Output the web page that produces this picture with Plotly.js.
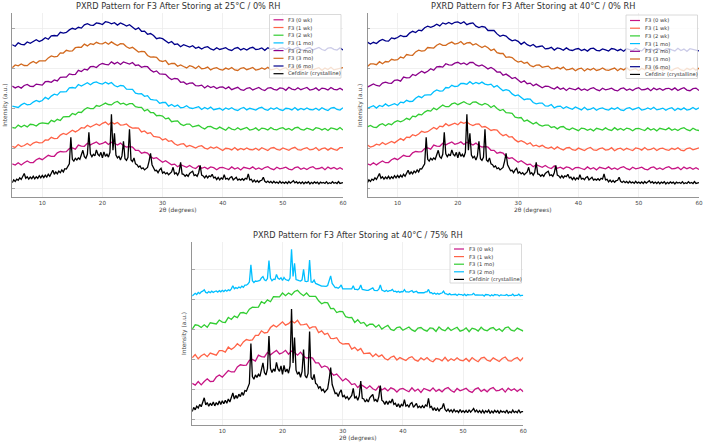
<!DOCTYPE html>
<html><head><meta charset="utf-8">
<script src="https://cdn.plot.ly/plotly-3.0.1.min.js"></script>
<style>html,body{margin:0;padding:0;background:#fff}#chart{width:708px;height:446px}</style>
</head><body><div id="chart"></div>
<script>
// 2θ grid for the amorphous halos (0.5° step)
const twoTheta = [
5,5.5,6,6.5,7,7.5,8,8.5,9,9.5,
10,10.5,11,11.5,12,12.5,13,13.5,14,14.5,
15,15.5,16,16.5,17,17.5,18,18.5,19,19.5,
20,20.5,21,21.5,22,22.5,23,23.5,24,24.5,
25,25.5,26,26.5,27,27.5,28,28.5,29,29.5,
30,30.5,31,31.5,32,32.5,33,33.5,34,34.5,
35,35.5,36,36.5,37,37.5,38,38.5,39,39.5,
40,40.5,41,41.5,42,42.5,43,43.5,44,44.5,
45,45.5,46,46.5,47,47.5,48,48.5,49,49.5,
50,50.5,51,51.5,52,52.5,53,53.5,54,54.5,
55,55.5,56,56.5,57,57.5,58,58.5,59,59.5,
60];
// 2θ grid for crystalline patterns (0.25° step)
const twoThetaFine = [
5,5.25,5.5,5.75, 6,6.25,6.5,6.75, 7,7.25,7.5,7.75, 8,8.25,8.5,8.75, 9,9.25,9.5,9.75,
10,10.25,10.5,10.75, 11,11.25,11.5,11.75, 12,12.25,12.5,12.75, 13,13.25,13.5,13.75, 14,14.25,14.5,14.75,
15,15.25,15.5,15.75, 16,16.25,16.5,16.75, 17,17.25,17.5,17.75, 18,18.25,18.5,18.75, 19,19.25,19.5,19.75,
20,20.25,20.5,20.75, 21,21.25,21.5,21.75, 22,22.25,22.5,22.75, 23,23.25,23.5,23.75, 24,24.25,24.5,24.75,
25,25.25,25.5,25.75, 26,26.25,26.5,26.75, 27,27.25,27.5,27.75, 28,28.25,28.5,28.75, 29,29.25,29.5,29.75,
30,30.25,30.5,30.75, 31,31.25,31.5,31.75, 32,32.25,32.5,32.75, 33,33.25,33.5,33.75, 34,34.25,34.5,34.75,
35,35.25,35.5,35.75, 36,36.25,36.5,36.75, 37,37.25,37.5,37.75, 38,38.25,38.5,38.75, 39,39.25,39.5,39.75,
40,40.25,40.5,40.75, 41,41.25,41.5,41.75, 42,42.25,42.5,42.75, 43,43.25,43.5,43.75, 44,44.25,44.5,44.75,
45,45.25,45.5,45.75, 46,46.25,46.5,46.75, 47,47.25,47.5,47.75, 48,48.25,48.5,48.75, 49,49.25,49.5,49.75,
50,50.25,50.5,50.75, 51,51.25,51.5,51.75, 52,52.25,52.5,52.75, 53,53.25,53.5,53.75, 54,54.25,54.5,54.75,
55,55.25,55.5,55.75, 56,56.25,56.5,56.75, 57,57.25,57.5,57.75, 58,58.25,58.5,58.75, 59,59.25,59.5,59.75,
60];

// Cefdinir (crystalline) reference pattern
const cefdinir = [
0.28,0.42,0.34,0.46, 0.40,0.52,0.44,0.60, 0.74,0.50,0.58,0.46, 0.56,0.48,0.60,0.47, 0.58,0.50,0.63,0.52,
0.64,0.54,0.66,0.56, 0.70,0.60,0.74,0.90, 0.70,0.82,0.72,0.86, 0.78,0.92,0.82,0.98, 0.96,1.12,1.22,2.55,
1.45,1.36,1.50,1.42, 1.52,1.45,1.72,1.90, 1.58,1.50,1.70,2.80, 1.72,1.58,1.70,1.62, 1.92,1.70,1.62,1.80,
1.52,1.82,1.60,1.70, 1.56,1.80,3.70,1.90, 2.75,1.66,1.52,1.60, 1.42,1.62,2.35,1.48, 1.40,1.55,2.95,1.42,
1.34,1.52,1.22,1.18, 1.06,1.12,0.98,1.02, 0.92,1.00,1.04,1.35, 1.75,1.18,1.04,0.88, 0.90,0.78,0.92,1.00,
0.76,0.82,0.72,0.78, 0.68,0.76,0.82,1.05, 0.72,0.78,0.66,0.80, 1.30,0.72,0.70,0.60, 0.68,0.60,0.74,0.80,
0.85,0.64,0.68,0.60, 0.78,1.15,0.66,0.62, 0.52,0.63,0.52,0.62, 0.58,0.70,0.52,0.56, 0.44,0.54,0.42,0.52,
0.46,0.68,0.46,0.50, 0.43,0.54,0.58,0.42, 0.48,0.55,0.41,0.46, 0.41,0.48,0.40,0.50, 0.46,0.72,0.42,0.45,
0.32,0.41,0.31,0.39, 0.30,0.38,0.40,0.55, 0.35,0.29,0.36,0.28, 0.34,0.26,0.35,0.27, 0.31,0.25,0.35,0.26,
0.31,0.25,0.32,0.24, 0.34,0.26,0.32,0.38, 0.27,0.33,0.25,0.31, 0.24,0.32,0.23,0.31, 0.26,0.33,0.22,0.30,
0.24,0.32,0.26,0.31, 0.22,0.31,0.26,0.29, 0.24,0.33,0.23,0.28, 0.24,0.33,0.25,0.29, 0.24,0.34,0.24,0.28,
0.28];

// F3 (2 mo) at 40°C / 75% RH — recrystallised
const f3_75_2mo = [
0.13,0.19,0.22,0.18, 0.25,0.21,0.27,0.29, 0.34,0.25,0.23,0.28, 0.24,0.29,0.25,0.28, 0.30,0.26,0.31,0.27,
0.32,0.28,0.33,0.29, 0.34,0.31,0.37,0.47, 0.37,0.41,0.38,0.43, 0.40,0.46,0.42,0.49, 0.49,0.53,0.60,1.17,
0.64,0.58,0.63,0.62, 0.64,0.65,0.73,0.78, 0.67,0.64,0.71,1.31, 0.73,0.64,0.69,0.68, 0.85,0.72,0.69,0.74,
0.65,0.75,0.68,0.65, 0.64,0.73,1.69,0.78, 1.22,0.68,0.65,0.64, 0.63,0.67,1.02,0.62, 0.61,0.63,1.33,0.60,
0.59,0.66,0.55,0.53, 0.49,0.49,0.46,0.46, 0.45,0.45,0.48,0.62, 0.80,0.55,0.47,0.41, 0.42,0.39,0.43,0.50,
0.37,0.37,0.36,0.36, 0.35,0.35,0.37,0.47, 0.35,0.35,0.34,0.38, 0.50,0.35,0.34,0.31, 0.32,0.32,0.35,0.38,
0.40,0.32,0.32,0.31, 0.36,0.50,0.33,0.31, 0.28,0.32,0.28,0.31, 0.31,0.35,0.28,0.29, 0.26,0.29,0.25,0.28,
0.27,0.34,0.27,0.27, 0.26,0.29,0.31,0.25, 0.26,0.29,0.24,0.25, 0.24,0.24,0.24,0.27, 0.27,0.35,0.24,0.24,
0.20,0.23,0.19,0.22, 0.19,0.22,0.23,0.29, 0.21,0.20,0.17,0.21, 0.17,0.18,0.18,0.19, 0.15,0.19,0.18,0.18,
0.15,0.19,0.14,0.18, 0.17,0.17,0.18,0.22, 0.16,0.17,0.16,0.16, 0.16,0.17,0.13,0.18, 0.17,0.17,0.13,0.17,
0.14,0.18,0.17,0.17, 0.13,0.17,0.16,0.16, 0.15,0.18,0.14,0.15, 0.15,0.19,0.14,0.15, 0.15,0.19,0.14,0.15,
0.15];

// F3 (0 wk) — same sample in all three panels
const f3_0wk = [
0.22,0.16,0.28,0.17,0.28,0.37,0.28,0.29,0.43,0.50,
0.43,0.54,0.65,0.60,0.60,0.77,0.84,0.82,0.83,0.99,
1.02,0.96,1.16,1.11,1.10,1.25,1.17,1.25,1.32,1.20,
1.24,1.32,1.19,1.30,1.25,1.16,1.26,1.13,1.06,1.09,
1.06,0.90,0.90,0.75,0.80,0.76,0.59,0.49,0.53,0.42,
0.30,0.38,0.30,0.18,0.21,0.08,0.18,0.12,0.05,0.14,
0.04,-0.01,0.12,0.00,0.06,-0.03,0.07,0.03,-0.07,0.03,
0.05,-0.01,-0.06,0.07,-0.04,0.03,-0.08,0.05,0.01,-0.03,
0.07,-0.05,0.02,-0.06,0.04,0.08,-0.02,-0.07,0.05,-0.03,
0.01,0.06,-0.04,-0.08,0.03,0.07,-0.05,0.02,-0.06,0.04,
0.08,-0.03,-0.01,0.05,-0.07,0.06,-0.02,0.04,-0.05,0.03,
-0.06];

// 25°C / 0% RH
const f3_25_1wk = [
0.10,0.04,0.19,0.09,0.14,0.24,0.14,0.26,0.32,0.27,
0.28,0.42,0.41,0.55,0.48,0.50,0.66,0.74,0.69,0.79,
0.90,0.82,0.90,1.03,1.01,1.15,1.06,1.14,1.22,1.14,
1.25,1.31,1.18,1.30,1.22,1.29,1.16,1.17,1.22,1.08,
1.01,1.02,1.01,0.82,0.87,0.74,0.78,0.59,0.57,0.55,
0.42,0.48,0.35,0.38,0.23,0.15,0.21,0.23,0.08,0.14,
0.08,0.01,0.10,0.13,0.01,-0.04,0.07,0.00,0.07,-0.03,
-0.11,0.00,-0.02,-0.08,0.04,-0.09,-0.01,-0.07,0.02,-0.06,
-0.08,0.00,-0.10,0.03,-0.05,-0.11,0.01,0.04,-0.06,-0.09,
0.02,-0.04,-0.10,0.00,0.05,-0.07,-0.09,-0.01,0.03,-0.08,
-0.06,0.04,-0.11,-0.02,0.02,-0.09,0.01,-0.05,-0.10,0.03,
0.03];
const f3_25_2wk = [
0.04,0.01,0.16,0.06,0.15,0.07,0.20,0.18,0.11,0.23,
0.27,0.24,0.23,0.40,0.33,0.45,0.39,0.57,0.58,0.59,
0.74,0.68,0.81,0.79,0.94,1.03,0.98,0.98,1.14,1.10,
1.18,1.26,1.19,1.17,1.29,1.34,1.21,1.26,1.16,1.23,
1.23,1.08,1.05,1.05,0.87,0.94,0.79,0.78,0.63,0.65,
0.61,0.47,0.51,0.33,0.36,0.37,0.21,0.14,0.21,0.21,
0.07,0.11,0.15,0.04,-0.03,0.08,0.09,0.01,-0.04,0.06,
0.00,-0.10,0.05,-0.04,-0.08,0.03,-0.07,-0.01,0.04,-0.09,
-0.06,0.02,-0.11,0.01,-0.02,-0.09,0.04,-0.05,-0.08,0.00,
0.03,-0.07,-0.01,-0.10,0.02,0.05,-0.06,-0.09,0.01,-0.04,
-0.10,0.03,0.00,-0.08,-0.01,-0.11,0.02,-0.02,-0.07,0.04,
-0.09];
const f3_25_1mo = [
0.11,0.07,0.04,0.17,0.25,0.17,0.19,0.31,0.39,0.33,
0.39,0.55,0.46,0.61,0.71,0.66,0.82,0.82,0.83,1.02,
1.04,1.01,1.19,1.11,1.18,1.28,1.18,1.28,1.32,1.24,
1.21,1.30,1.22,1.29,1.14,1.07,1.14,1.12,0.96,0.95,
0.95,0.76,0.72,0.73,0.60,0.63,0.44,0.42,0.41,0.25,
0.29,0.29,0.11,0.19,0.09,0.16,0.03,0.05,0.13,0.02,
-0.01,0.04,0.08,-0.06,0.04,-0.04,0.06,-0.07,-0.04,0.00,
-0.10,0.02,-0.05,0.03,-0.07,-0.11,-0.01,0.04,-0.08,0.00,
-0.04,-0.09,0.01,0.05,-0.06,-0.10,0.02,-0.05,0.03,-0.07,
-0.11,0.00,-0.02,-0.08,0.04,-0.09,-0.01,-0.07,0.02,-0.06,
-0.08,0.00,-0.10,0.03,-0.05,-0.11,0.01,0.04,-0.06,-0.09,
0.03];
const f3_25_2mo = [
0.11,0.02,0.09,0.01,0.14,0.19,0.10,0.09,0.21,0.19,
0.16,0.33,0.34,0.30,0.42,0.37,0.55,0.56,0.56,0.72,
0.68,0.70,0.90,0.84,0.96,0.92,1.08,1.09,1.04,1.18,
1.24,1.20,1.17,1.32,1.22,1.30,1.19,1.32,1.27,1.21,
1.29,1.14,1.17,1.05,1.10,1.08,0.92,0.81,0.87,0.72,
0.71,0.70,0.54,0.44,0.49,0.47,0.30,0.32,0.20,0.26,
0.27,0.13,0.12,0.16,0.02,0.13,0.04,0.09,-0.01,0.06,
0.07,-0.02,0.07,-0.07,0.00,0.05,-0.07,-0.10,0.00,0.03,
-0.08,-0.02,0.04,-0.06,-0.11,0.01,0.03,-0.05,-0.09,0.02,
0.00,-0.10,0.05,-0.04,-0.08,0.03,-0.07,-0.01,0.04,-0.09,
-0.06,0.02,-0.11,0.01,-0.02,-0.09,0.04,-0.05,-0.08,0.00,
-0.09];
const f3_25_3mo = [
0.03,0.17,0.12,0.22,0.14,0.13,0.26,0.34,0.25,0.37,
0.37,0.37,0.52,0.62,0.57,0.59,0.77,0.76,0.90,0.86,
0.87,1.03,1.06,1.05,1.21,1.12,1.23,1.19,1.30,1.23,
1.22,1.30,1.20,1.32,1.22,1.14,1.23,1.22,1.08,1.00,
1.05,0.93,0.81,0.85,0.83,0.64,0.56,0.57,0.55,0.38,
0.34,0.39,0.19,0.24,0.24,0.10,0.17,0.09,0.02,0.13,
0.08,-0.01,0.11,-0.02,0.00,0.06,-0.08,0.00,0.03,-0.06,
-0.09,0.01,-0.05,0.04,-0.08,-0.11,0.00,0.03,-0.07,-0.02,
0.04,-0.09,-0.06,0.02,-0.05,0.05,-0.08,-0.04,0.01,-0.10,
-0.01,0.03,-0.11,0.00,-0.07,0.02,-0.09,-0.05,0.04,-0.06,
-0.08,-0.02,0.03,-0.10,0.01,-0.06,0.05,-0.08,-0.04,0.00,
0.03];
const f3_25_6mo = [
0.18,0.10,0.27,0.20,0.18,0.32,0.25,0.34,0.43,0.34,
0.41,0.53,0.45,0.62,0.64,0.62,0.80,0.76,0.79,0.92,
1.00,0.95,1.05,1.01,1.17,1.23,1.16,1.15,1.27,1.24,
1.19,1.33,1.30,1.22,1.28,1.16,1.27,1.20,1.11,1.18,
1.04,0.94,1.02,0.85,0.86,0.70,0.74,0.64,0.48,0.52,
0.48,0.36,0.26,0.34,0.19,0.22,0.08,0.18,0.12,0.06,
0.13,0.00,0.06,-0.04,0.05,0.08,-0.03,-0.09,0.03,-0.06,
-0.02,0.03,-0.07,-0.11,0.00,0.04,-0.08,-0.01,-0.09,0.01,
0.05,-0.06,-0.04,0.02,-0.10,0.03,-0.05,0.01,-0.08,0.00,
0.02,-0.06,0.04,-0.09,-0.01,0.05,-0.07,-0.10,0.00,0.03,
-0.08,-0.02,0.04,-0.06,-0.11,0.01,0.03,-0.05,-0.09,0.02,
-0.09];

// 40°C / 0% RH
const f3_40_1wk = [
0.17,0.06,0.11,0.21,0.16,0.29,0.19,0.26,0.34,0.27,
0.40,0.49,0.40,0.56,0.54,0.68,0.62,0.71,0.85,0.80,
0.83,0.94,1.04,0.96,1.11,1.08,1.23,1.13,1.20,1.26,
1.18,1.31,1.25,1.32,1.20,1.14,1.21,1.22,1.06,1.09,
1.00,0.89,0.93,0.91,0.74,0.63,0.69,0.56,0.58,0.42,
0.32,0.38,0.31,0.20,0.28,0.11,0.16,0.08,0.15,0.05,
0.00,0.06,-0.05,0.07,-0.02,-0.09,0.02,0.04,-0.07,-0.10,
0.01,-0.05,-0.11,-0.01,0.04,-0.08,-0.10,-0.02,0.02,-0.09,
-0.07,0.03,-0.12,-0.03,0.01,-0.10,0.00,-0.06,-0.11,0.02,
-0.01,-0.09,0.04,-0.08,-0.05,0.02,-0.11,-0.02,0.01,-0.07,
-0.10,0.00,-0.06,0.03,-0.09,-0.12,-0.01,0.02,-0.08,-0.03,
0.02];
const f3_40_2wk = [
0.07,0.14,0.06,0.04,0.17,0.23,0.13,0.23,0.18,0.31,
0.38,0.32,0.39,0.50,0.43,0.61,0.58,0.70,0.67,0.81,
0.89,0.86,1.01,0.93,1.05,1.16,1.08,1.08,1.22,1.27,
1.18,1.26,1.33,1.24,1.19,1.31,1.32,1.22,1.16,1.24,
1.18,1.04,1.14,0.99,0.89,0.94,0.78,0.77,0.75,0.56,
0.52,0.54,0.35,0.41,0.33,0.21,0.30,0.17,0.11,0.16,
0.16,0.04,0.08,-0.03,0.07,0.09,-0.03,-0.07,0.02,-0.04,
-0.12,0.01,-0.02,-0.10,-0.03,-0.13,0.00,-0.04,-0.09,0.02,
-0.07,-0.11,0.03,-0.08,-0.01,-0.10,0.01,-0.03,-0.12,-0.02,
0.00,-0.06,-0.11,0.02,-0.09,-0.02,-0.13,0.00,-0.04,-0.08,
0.02,-0.10,-0.03,-0.11,-0.01,0.03,-0.07,-0.12,0.00,-0.08,
-0.11];
const f3_40_1mo = [
0.00,0.07,0.13,0.01,0.14,0.09,0.22,0.11,0.17,0.23,
0.15,0.31,0.28,0.40,0.34,0.35,0.50,0.60,0.53,0.66,
0.67,0.67,0.83,0.92,0.86,0.87,1.04,1.02,1.15,1.09,
1.11,1.24,1.24,1.20,1.33,1.21,1.29,1.23,1.31,1.21,
1.17,1.21,1.06,1.14,1.00,0.88,0.93,0.89,0.72,0.62,
0.67,0.55,0.43,0.47,0.46,0.29,0.22,0.26,0.26,0.12,
0.11,0.19,0.02,0.09,0.11,-0.01,0.08,0.01,-0.05,0.07,
0.00,-0.08,0.05,-0.07,-0.04,0.03,-0.10,-0.01,0.02,-0.06,
-0.09,0.01,-0.05,0.04,-0.08,-0.11,0.00,0.03,-0.07,-0.02,
0.04,-0.09,-0.06,0.02,-0.05,0.05,-0.08,-0.04,0.01,-0.10,
-0.01,0.03,-0.11,0.00,-0.07,0.02,-0.09,-0.05,0.04,-0.06,
0.03];
const f3_40_2mo = [
0.06,0.14,0.22,0.14,0.11,0.26,0.31,0.26,0.25,0.40,
0.42,0.36,0.56,0.52,0.53,0.69,0.64,0.75,0.85,0.77,
0.85,0.98,0.90,1.07,1.09,1.06,1.23,1.17,1.16,1.26,
1.30,1.21,1.27,1.18,1.29,1.30,1.17,1.11,1.17,1.08,
0.97,1.04,0.95,0.81,0.82,0.65,0.71,0.61,0.49,0.54,
0.39,0.29,0.38,0.23,0.26,0.13,0.21,0.14,0.03,0.11,
0.10,0.02,-0.04,0.07,-0.05,0.01,-0.11,0.01,-0.03,-0.08,
0.02,-0.10,-0.03,-0.11,-0.01,0.03,-0.07,-0.12,0.00,-0.08,
-0.04,0.01,-0.09,-0.13,-0.02,0.02,-0.10,-0.03,-0.11,-0.01,
0.03,-0.08,-0.06,0.00,-0.12,0.01,-0.07,-0.01,-0.10,-0.02,
0.00,-0.08,0.02,-0.11,-0.03,0.03,-0.09,-0.12,-0.02,0.01,
-0.11];
const f3_40_3mo = [
0.09,0.22,0.22,0.18,0.33,0.23,0.34,0.32,0.45,0.41,
0.43,0.56,0.51,0.69,0.66,0.65,0.82,0.91,0.86,0.88,
1.04,1.02,1.01,1.15,1.23,1.15,1.15,1.25,1.31,1.21,
1.24,1.34,1.19,1.27,1.29,1.16,1.23,1.13,1.04,1.12,
1.03,0.89,0.96,0.78,0.74,0.74,0.55,0.57,0.54,0.40,
0.31,0.36,0.25,0.30,0.14,0.08,0.16,0.17,0.05,0.08,
0.11,-0.03,-0.02,0.05,-0.03,0.06,-0.08,-0.05,0.00,-0.12,
-0.03,0.01,-0.13,-0.02,-0.09,0.00,-0.11,-0.07,0.02,-0.08,
-0.10,-0.04,0.01,-0.12,-0.01,-0.08,0.03,-0.10,-0.06,-0.02,
-0.12,0.00,-0.07,0.01,-0.09,-0.13,-0.03,0.02,-0.10,-0.02,
-0.06,-0.11,-0.01,0.03,-0.08,-0.12,0.00,-0.07,0.01,-0.09,
0.01];
const f3_40_6mo = [
0.31,0.21,0.30,0.24,0.37,0.44,0.37,0.36,0.52,0.48,
0.54,0.64,0.59,0.60,0.76,0.85,0.79,0.91,0.88,1.03,
1.11,1.05,1.11,1.20,1.12,1.27,1.21,1.29,1.21,1.30,
1.32,1.24,1.33,1.18,1.24,1.27,1.11,1.04,1.09,1.06,
0.89,0.89,0.89,0.72,0.60,0.66,0.61,0.47,0.37,0.42,
0.35,0.20,0.31,0.18,0.11,0.19,0.06,0.09,0.12,-0.03,
-0.01,0.05,-0.09,0.02,-0.02,-0.10,0.02,-0.08,-0.11,-0.04,
-0.01,-0.11,-0.05,-0.14,-0.02,0.01,-0.10,-0.13,-0.03,-0.08,
-0.14,-0.01,-0.04,-0.12,-0.05,-0.15,-0.02,-0.06,-0.11,0.00,
-0.09,-0.13,0.01,-0.10,-0.03,-0.12,-0.01,-0.05,-0.14,-0.04,
-0.02,-0.08,-0.13,0.00,-0.11,-0.04,-0.15,-0.02,-0.06,-0.10,
-0.13];

// 40°C / 75% RH
const f3_75_1wk = [
0.07,0.18,0.04,0.14,0.20,0.11,0.23,0.19,0.16,0.31,
0.31,0.26,0.43,0.35,0.42,0.54,0.46,0.60,0.68,0.65,
0.67,0.82,0.82,0.97,0.90,0.92,1.08,1.16,1.10,1.18,
1.27,1.16,1.21,1.30,1.23,1.32,1.17,1.18,1.20,1.05,
1.10,1.10,0.91,0.97,0.85,0.89,0.72,0.71,0.74,0.59,
0.53,0.54,0.54,0.36,0.42,0.31,0.38,0.21,0.22,0.23,
0.11,0.20,0.11,0.17,0.05,0.00,0.09,0.13,0.00,0.08,
0.03,-0.02,0.07,0.11,0.00,-0.04,0.07,0.00,0.08,-0.02,
-0.06,0.05,0.03,-0.03,0.09,-0.04,0.04,-0.02,0.07,-0.01,
-0.03,0.05,-0.05,0.08,0.00,-0.06,0.06,0.09,-0.01,-0.04,
0.07,0.01,-0.05,0.05,0.10,-0.02,-0.04,0.04,0.08,-0.03,
0.08];
const f3_75_1mo = [
0.03,0.17,0.15,0.08,0.17,0.09,0.24,0.22,0.20,0.33,
0.26,0.25,0.42,0.35,0.46,0.41,0.57,0.58,0.54,0.69,
0.76,0.75,0.76,0.94,0.88,1.00,0.94,1.11,1.11,1.10,
1.23,1.14,1.23,1.17,1.28,1.32,1.21,1.14,1.23,1.12,
1.12,1.12,0.97,0.87,0.92,0.90,0.71,0.72,0.58,0.62,
0.61,0.44,0.41,0.42,0.25,0.34,0.22,0.25,0.13,0.19,
0.19,0.09,0.17,0.03,0.10,0.15,0.02,-0.02,0.08,0.10,
-0.01,0.04,0.10,0.00,-0.05,0.06,0.08,0.00,-0.04,0.07,
0.05,-0.05,0.10,0.01,-0.03,0.08,-0.02,0.04,0.09,-0.04,
-0.01,0.07,-0.06,0.06,0.03,-0.04,0.09,0.00,-0.03,0.05,
0.08,-0.02,0.04,-0.05,0.07,0.10,-0.01,-0.04,0.06,0.01,
-0.04];

// labels / colours
const labelsTop = ['F3 (0 wk)','F3 (1 wk)','F3 (2 wk)','F3 (1 mo)','F3 (2 mo)','F3 (3 mo)','F3 (6 mo)','Cefdinir (crystalline)'];
const labelsBottom = ['F3 (0 wk)','F3 (1 wk)','F3 (1 mo)','F3 (2 mo)','Cefdinir (crystalline)'];
const colorsTop = ['#c71585','#ff6347','#32cd32','#00bfff','#8b008b','#d2691e','#00008b','#000000'];
const colorsBottom = ['#c71585','#ff6347','#32cd32','#00bfff','#000000'];
const titles = ['PXRD Pattern for F3 After Storing at 25°C / 0% RH','PXRD Pattern for F3 After Storing at 40°C / 0% RH','PXRD Pattern for F3 After Storing at 40°C / 75% RH'];
const xTickVals = [10,20,30,40,50,60];

// sanity check of array lengths
[f3_0wk,f3_25_1wk,f3_25_2wk,f3_25_1mo,f3_25_2mo,f3_25_3mo,f3_25_6mo,f3_40_1wk,f3_40_2wk,f3_40_1mo,f3_40_2mo,f3_40_3mo,f3_40_6mo,f3_75_1wk,f3_75_1mo].forEach((a,i)=>{ if(a.length!==twoTheta.length) throw new Error('amorphous array '+i+' length '+a.length); });
[cefdinir,f3_75_2mo].forEach((a,i)=>{ if(a.length!==twoThetaFine.length) throw new Error('fine array '+i+' length '+a.length); });

const W=708,H=446;
const fx=p=>p/W, fy=p=>1-p/H;
const FONT='DejaVu Sans';

const panels=[
 {dom:[12.2,343,13,197], yr:[-0.435,8.765], ytv:[0,2,4,6,8], title:titles[0],
  data:[[twoTheta,f3_0wk],[twoTheta,f3_25_1wk],[twoTheta,f3_25_2wk],[twoTheta,f3_25_1mo],[twoTheta,f3_25_2mo],[twoTheta,f3_25_3mo],[twoTheta,f3_25_6mo],[twoThetaFine,cefdinir]],
  labels:labelsTop, colors:colorsTop, leg:{x0:269.5,x1:341,y0:14.5,y1:78,first:19.8,step:7.7}},
 {dom:[367.4,699,13,197], yr:[-0.435,8.765], ytv:[0,2,4,6,8], title:titles[1],
  data:[[twoTheta,f3_0wk],[twoTheta,f3_40_1wk],[twoTheta,f3_40_2wk],[twoTheta,f3_40_1mo],[twoTheta,f3_40_2mo],[twoTheta,f3_40_3mo],[twoTheta,f3_40_6mo],[twoThetaFine,cefdinir]],
  labels:labelsTop, colors:colorsTop, leg:{x0:626,x1:697.5,y0:15,y1:78.5,first:20.5,step:7.7}},
 {dom:[192.2,523.3,241.7,425], yr:[-0.167,5.94], ytv:[0,1,2,3,4,5], title:titles[2],
  data:[[twoTheta,f3_0wk],[twoTheta,f3_75_1wk],[twoTheta,f3_75_1mo],[twoThetaFine,f3_75_2mo],[twoThetaFine,cefdinir]],
  labels:labelsBottom, colors:colorsBottom, leg:{x0:450,x1:521.5,y0:244,y1:283,first:249,step:7.6}}
];

const traces=[], shapes=[], annotations=[], layout={
  width:W,height:H,margin:{l:0,r:0,t:0,b:0},paper_bgcolor:'#fff',plot_bgcolor:'#fff',
  showlegend:false,font:{family:FONT,color:'#444'}
};

panels.forEach((p,pi)=>{
  const sfx = pi===0?'':String(pi+1);
  const n = p.data.length;
  p.data.forEach((d,i)=>{
    const isRef = (i===n-1);
    const off = isRef?0:(i+1);
    const fine = (d[0]===twoThetaFine);
    traces.push({type:'scatter',mode:'lines',x:d[0],y:d[1].map(v=>v+off),
      xaxis:'x'+sfx,yaxis:'y'+sfx,name:p.labels[i],hoverinfo:'skip',
      line:{color:p.colors[i],width:fine?1.3:1.3,shape:'linear'}});
  });
  const axStyle={showgrid:true,gridcolor:'#e9e9e9',gridwidth:0.7,showline:true,linecolor:'#7a7a7a',linewidth:0.8,zeroline:false,fixedrange:true};
  layout['xaxis'+sfx]=Object.assign({},axStyle,{domain:[fx(p.dom[0]),fx(p.dom[1])],range:[5,60],tickvals:xTickVals,ticks:'',
      tickfont:{family:FONT,size:5.6,color:'#444'},anchor:'y'+sfx});
  layout['yaxis'+sfx]=Object.assign({},axStyle,{domain:[fy(p.dom[3]),fy(p.dom[2])],range:p.yr,tickvals:p.ytv,showticklabels:false,
      ticks:'inside',ticklen:2.5,tickcolor:'#888',tickwidth:0.7,anchor:'x'+sfx});
  const cx=(p.dom[0]+p.dom[1])/2, cy=(p.dom[2]+p.dom[3])/2;
  annotations.push({xref:'paper',yref:'paper',x:fx(cx),y:fy(p.dom[2]-6.5),text:p.title,showarrow:false,xanchor:'center',yanchor:'middle',font:{family:FONT,size:8.2,color:'#333'}});
  annotations.push({xref:'paper',yref:'paper',x:fx(cx),y:fy(p.dom[3]+13),text:'2θ (degrees)',showarrow:false,xanchor:'center',yanchor:'middle',font:{family:FONT,size:5.9,color:'#444'}});
  annotations.push({xref:'paper',yref:'paper',x:fx(p.dom[0]-7.5),y:fy(cy),text:'Intensity (a.u.)',textangle:-90,showarrow:false,xanchor:'center',yanchor:'middle',font:{family:FONT,size:5.9,color:'#444'}});
  const L=p.leg;
  shapes.push({type:'rect',xref:'paper',yref:'paper',x0:fx(L.x0),x1:fx(L.x1),y0:fy(L.y1),y1:fy(L.y0),
     line:{color:'#d0d0d0',width:0.8},fillcolor:'rgba(255,255,255,0.8)',layer:'above'});
  p.labels.forEach((lab,i)=>{
    const yy=L.first+i*L.step;
    shapes.push({type:'line',xref:'paper',yref:'paper',x0:fx(L.x0+4),x1:fx(L.x0+14),y0:fy(yy),y1:fy(yy),
       line:{color:p.colors[i],width:1.2},layer:'above'});
    annotations.push({xref:'paper',yref:'paper',x:fx(L.x0+16.5),y:fy(yy),text:lab,showarrow:false,xanchor:'left',yanchor:'middle',
       font:{family:FONT,size:5.2,color:'#333'}});
  });
});
layout.shapes=shapes; layout.annotations=annotations;
Plotly.newPlot('chart',traces,layout,{staticPlot:true,displayModeBar:false});
</script>
</body></html>
